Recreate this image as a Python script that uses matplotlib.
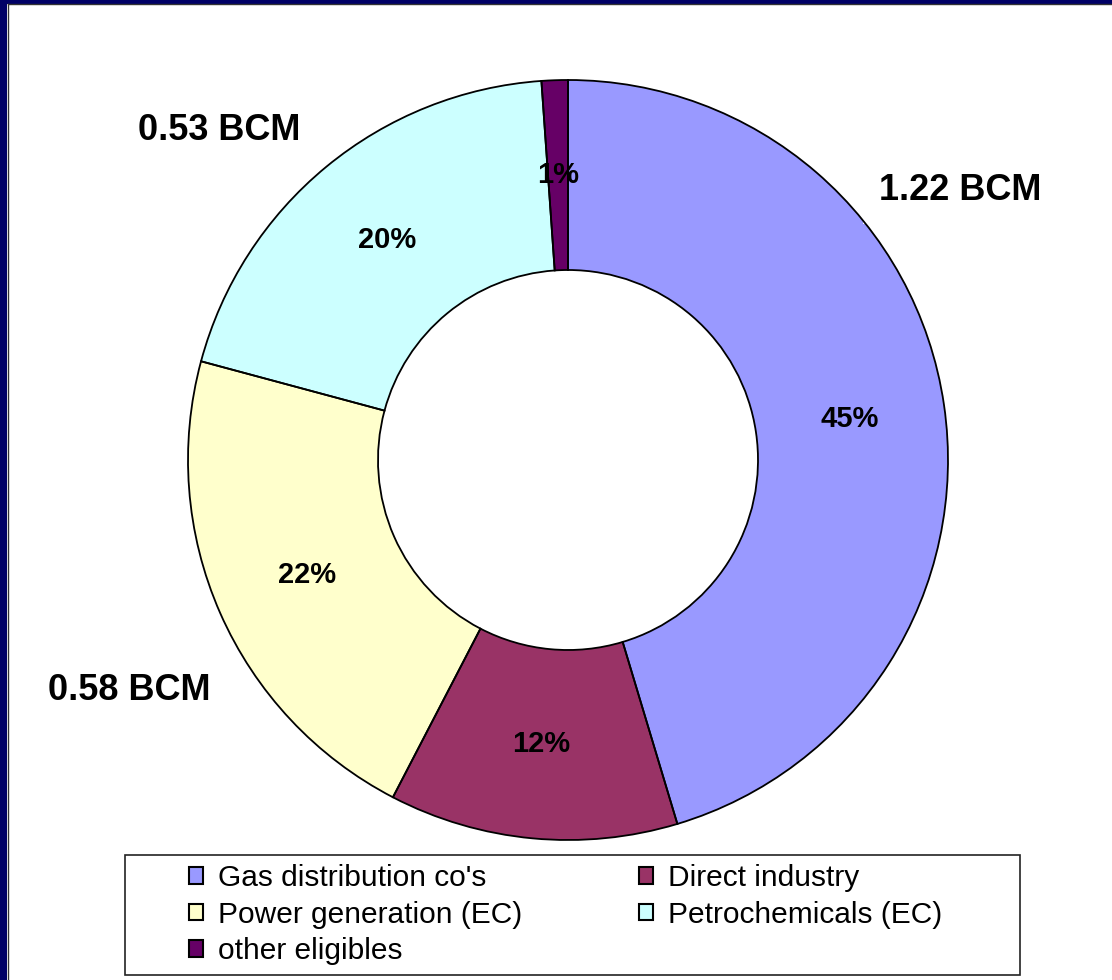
import matplotlib
matplotlib.use("Agg")
import matplotlib.pyplot as plt
from matplotlib.patches import Patch, Rectangle

categories = ["Gas distribution co's", "Direct industry", "Power generation (EC)",
              "Petrochemicals (EC)", "other eligibles"]
volumes_bcm = [1.22, 0.33, 0.58, 0.53, 0.03]
colors = ["#9999FF", "#993366", "#FFFFCC", "#CCFFFF", "#660066"]
volume_labels = ["1.22 BCM", "0.53 BCM", "0.58 BCM"]

plt.rcParams['font.family'] = ['Liberation Sans', 'DejaVu Sans']

W, H = 1112, 980
fig = plt.figure(figsize=(W / 100, H / 100), dpi=100)
fig.patch.set_facecolor("white")

def fx(px):
    return px / W

def fy(py):
    return 1 - py / H

# slide frame (navy band on left and top)
fig.patches.append(Rectangle((0, 0), fx(7), 1, transform=fig.transFigure,
                             facecolor="#000066", edgecolor="none", zorder=0))
fig.patches.append(Rectangle((0, fy(4)), 1, 4 / H, transform=fig.transFigure,
                             facecolor="#000066", edgecolor="none", zorder=0))
fig.add_artist(plt.Line2D([fx(7.5), fx(7.5)], [0, fy(4.5)], transform=fig.transFigure,
                          color="#333333", lw=1.0))
fig.add_artist(plt.Line2D([fx(7.5), 1], [fy(4.5), fy(4.5)], transform=fig.transFigure,
                          color="#333333", lw=1.0))

# donut
cx, cy, R = 568, 460, 380
ax = fig.add_axes([fx(cx - R), fy(cy + R), 2 * R / W, 2 * R / H])
wedges, texts, autotexts = ax.pie(
    volumes_bcm, colors=colors, startangle=90, counterclock=False, radius=1.0,
    autopct=lambda p: f"{p:.0f}%", pctdistance=0.75,
    wedgeprops=dict(width=0.5, edgecolor="none", linewidth=0),
    textprops=dict(fontsize=21, fontweight="bold", color="black"))
for w in wedges:
    w.set_zorder(1)
for t in autotexts:
    t.set_zorder(4)
edges, _ = ax.pie(
    volumes_bcm, startangle=90, counterclock=False, radius=1.0,
    wedgeprops=dict(width=0.5, facecolor="none", edgecolor="black", linewidth=1.3))
for w in edges:
    w.set_zorder(3)
ax.set_xlim(-1, 1)
ax.set_ylim(-1, 1)
ax.set_aspect("equal")
ax.axis("off")

# volume annotations (white-filled text boxes)
vol_pos = [(960, 190), (219, 131), (129, 690)]
for lab, (px, py) in zip(volume_labels, vol_pos):
    ax.text(fx(px), fy(py), lab, transform=fig.transFigure, ha="center", va="center",
            fontsize=26, fontweight="bold", color="black", zorder=2, clip_on=False,
            bbox=dict(boxstyle="square,pad=0.45", facecolor="white", edgecolor="none"))

# legend box
lx0, ly0, lx1, ly1 = 125, 855, 1020, 975
fig.patches.append(Rectangle((fx(lx0), fy(ly1)), (lx1 - lx0) / W, (ly1 - ly0) / H,
                             transform=fig.transFigure, facecolor="white",
                             edgecolor="#222222", linewidth=1.2, zorder=1))
handles = [Patch(facecolor=c, edgecolor="black", linewidth=1.5) for c in colors]
order = [0, 2, 4, 1, 3]
leg = fig.legend([handles[i] for i in order], [categories[i] for i in order],
                 ncol=2, loc="upper left", bbox_to_anchor=(fx(174), fy(849)),
                 frameon=False, fontsize=21.5, handlelength=0.47, handleheight=0.47,
                 handletextpad=0.5, columnspacing=3.9, labelspacing=0.29,
                 borderpad=0.0)
leg.set_zorder(2)

fig.savefig("out.png", dpi=100, facecolor="white")
